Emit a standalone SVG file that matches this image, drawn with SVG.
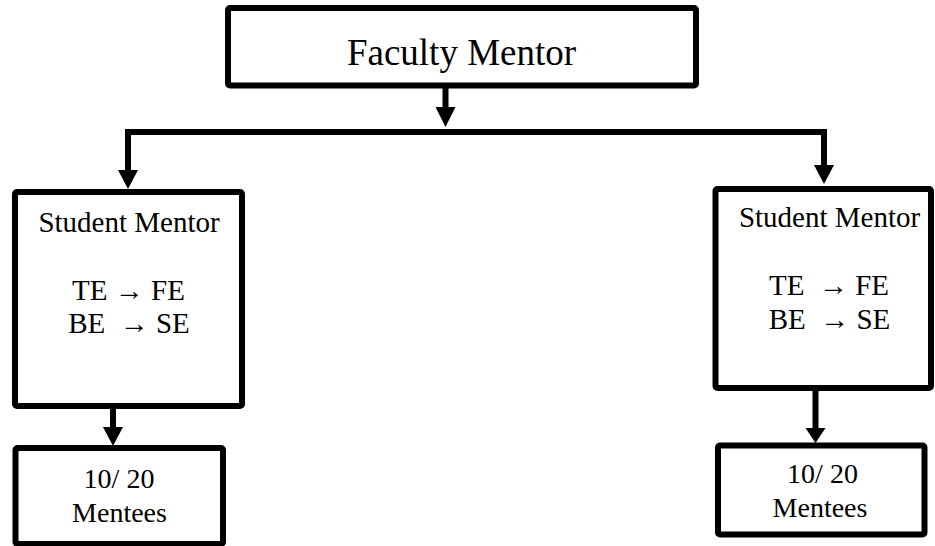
<svg xmlns="http://www.w3.org/2000/svg" width="935" height="546" viewBox="0 0 935 546">
  <style>
    .box { fill: #ffffff; stroke: #000000; stroke-width: 6; }
    .wire { fill: none; stroke: #000000; stroke-width: 6; stroke-linejoin: miter; }
    .head { fill: #000000; stroke: none; }
    text { font-family: "Liberation Serif", "Times New Roman", serif; fill: #000000; text-anchor: middle; white-space: pre; }
    .t-lg { font-size: 37px; }
    .t-md { font-size: 29px; }
    .t-sm { font-size: 28px; }
  </style>
  <rect width="935" height="546" fill="#ffffff"/>

  <!-- connectors -->
  <g id="connectors">
    <!-- faculty mentor down to the split bar -->
    <line class="wire" x1="445.5" y1="86" x2="445.5" y2="108"/>
    <polygon class="head" points="435.5,107 455.5,107 445.5,127"/>
    <!-- split bar feeding both student mentors -->
    <polyline class="wire" points="128,171 128,132 824,132 824,166"/>
    <polygon class="head" points="118,170 138,170 128,189"/>
    <polygon class="head" points="814,165 834,165 824,184"/>
    <!-- student mentors down to mentee groups -->
    <line class="wire" x1="113" y1="406" x2="113" y2="428"/>
    <polygon class="head" points="103,427 123,427 113,446"/>
    <line class="wire" x1="815.5" y1="388" x2="815.5" y2="429"/>
    <polygon class="head" points="805.5,428 825.5,428 815.5,443"/>
  </g>

  <g id="faculty-mentor">
    <rect class="box" x="228" y="8" width="468" height="77.5" rx="2"/>
    <text class="t-lg" x="461.5" y="65">Faculty Mentor</text>
  </g>

  <g id="student-mentor-left">
    <rect class="box" x="15" y="192" width="227" height="214" rx="2"/>
    <text class="t-md" x="129" y="231.5">Student Mentor</text>
    <text class="t-md" x="128.5" y="300">TE → FE</text>
    <text class="t-md" x="129" y="333">BE  → SE</text>
  </g>

  <g id="student-mentor-right">
    <rect class="box" x="715.5" y="189" width="215.5" height="199" rx="2"/>
    <text class="t-md" x="829.5" y="227">Student Mentor</text>
    <text class="t-md" x="829" y="295">TE  → FE</text>
    <text class="t-md" x="829.5" y="329">BE  → SE</text>
  </g>

  <g id="mentees-left">
    <rect class="box" x="15.5" y="448" width="207.5" height="96" rx="2"/>
    <text class="t-sm" x="119" y="488">10/ 20</text>
    <text class="t-sm" x="119.5" y="521.5">Mentees</text>
  </g>

  <g id="mentees-right">
    <rect class="box" x="718" y="445.5" width="206.5" height="89" rx="2"/>
    <text class="t-sm" x="822.5" y="483">10/ 20</text>
    <text class="t-sm" x="820" y="517">Mentees</text>
  </g>
</svg>
